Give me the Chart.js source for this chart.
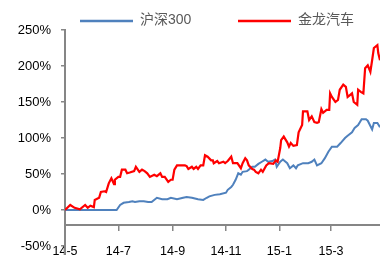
<!DOCTYPE html>
<html>
<head>
<meta charset="utf-8">
<script src="https://cdn.jsdelivr.net/npm/chart.js@4/dist/chart.umd.min.js"></script>
<style>
  body { margin: 0; background: #fff; }
</style>
</head>
<body>
<canvas id="grafico" width="380" height="255"></canvas>
<script>
// dias contados a partir de 2014-05-01
const diasHs300 = [0, 30, 59, 63, 67, 73, 77, 80, 85, 90, 95, 99, 105, 111, 117, 121, 128, 135, 139, 145, 152, 158, 162, 165, 171, 177, 184, 186, 190, 192, 195, 198, 201, 203, 208, 210, 214, 217, 221, 225, 229, 232, 237, 240, 242, 246, 249, 254, 257, 261, 264, 266, 272, 278, 282, 285, 288, 293, 297, 301, 305, 311, 315, 320, 323, 328, 331, 335, 339, 344, 346, 351, 353, 357, 360];
const hs300 = [0, 0, 0, 7, 10, 11, 12, 11, 12, 12, 11, 11, 17, 15, 15, 17, 15, 17, 18, 17, 15, 14, 17, 19, 21, 22, 24, 28, 32, 35, 42, 51, 49, 53, 54, 56, 60, 60, 64, 67, 70, 67, 68, 70, 60, 67, 70, 65, 58, 62, 58, 62, 65, 65, 67, 70, 62, 65, 72, 81, 88, 88, 93, 100, 103, 108, 114, 118, 126, 126, 124, 112, 121, 121, 115];

const diasJinlong = [0, 6, 11, 17, 23, 26, 29, 33, 34, 39, 41, 45, 47, 50, 53, 56, 57, 61, 63, 65, 69, 71, 74, 79, 81, 85, 88, 91, 94, 97, 102, 105, 109, 111, 114, 118, 121, 123, 125, 128, 137, 139, 141, 145, 147, 150, 152, 155, 158, 160, 163, 167, 169, 170, 174, 176, 181, 183, 186, 190, 192, 197, 201, 203, 206, 208, 210, 214, 216, 218, 221, 224, 226, 230, 233, 238, 241, 243, 246, 247, 250, 254, 256, 258, 261, 265, 267, 271, 272, 277, 279, 282, 285, 288, 290, 293, 295, 299, 302, 303, 305, 309, 312, 314, 318, 321, 323, 326, 328, 330, 334, 335, 338, 341, 343, 346, 349, 351, 353, 357, 358, 360];
const jinlong = [0, 7, 3, 1, 7, 3, 6, 4, 14, 17, 25, 26, 25, 37, 44, 36, 42, 46, 46, 56, 56, 51, 52, 54, 60, 53, 56, 54, 51, 46, 49, 47, 51, 46, 46, 39, 42, 42, 56, 62, 62, 61, 57, 60, 57, 60, 57, 62, 62, 76, 74, 69, 69, 65, 68, 65, 67, 65, 68, 74, 65, 65, 58, 65, 72, 69, 62, 57, 56, 53, 51, 56, 53, 62, 65, 64, 69, 67, 86, 97, 102, 94, 88, 93, 89, 90, 108, 118, 137, 137, 125, 130, 122, 121, 122, 140, 135, 139, 139, 162, 157, 150, 153, 167, 174, 171, 157, 160, 162, 150, 146, 167, 164, 162, 197, 201, 192, 208, 225, 229, 218, 208];

const diasTicks = [0, 61, 123, 184, 245, 304];
const rotulosTicks = ["14-5", "14-7", "14-9", "14-11", "15-1", "15-3"];
const ticksY = [-50, 0, 50, 100, 150, 200, 250];

const cinza = "#868686";
const fonte = "'Liberation Sans', 'Noto Sans CJK SC', sans-serif";

function pares(xs, ys) {
  return xs.map((x, i) => ({ x: x, y: ys[i] }));
}

// legenda desenhada à mão, no lugar da legenda padrão
const legendaManual = {
  id: "legendaManual",
  afterDraw(chart) {
    const ctx = chart.ctx;
    const posicoes = [80, 238];
    ctx.save();
    ctx.font = "14px " + fonte;
    ctx.textBaseline = "middle";
    chart.data.datasets.forEach((ds, i) => {
      const x = posicoes[i];
      ctx.strokeStyle = ds.borderColor;
      ctx.lineWidth = 2.5;
      ctx.beginPath();
      ctx.moveTo(x, 21);
      ctx.lineTo(x + 53, 21);
      ctx.stroke();
      ctx.fillStyle = "#595959";
      ctx.fillText(ds.label, x + 60, 20);
    });
    ctx.restore();
  }
};

const ctx = document.getElementById("grafico").getContext("2d");
const grafico = new Chart(ctx, {
  type: "line",
  data: {
    datasets: [{
      label: "沪深300",
      data: pares(diasHs300, hs300),
      borderColor: "#4f81bd",
      borderWidth: 2,
      pointRadius: 0,
      tension: 0,
      order: 1
    }, {
      label: "金龙汽车",
      data: pares(diasJinlong, jinlong),
      borderColor: "#ff0000",
      borderWidth: 2.2,
      pointRadius: 0,
      tension: 0,
      order: 0
    }]
  },
  options: {
    responsive: false,
    animation: false,
    devicePixelRatio: 1,
    layout: { padding: { top: 30, left: 0, right: 0, bottom: 0 } },
    plugins: {
      legend: { display: false },
      tooltip: { enabled: false }
    },
    scales: {
      x: {
        type: "linear",
        min: 0,
        max: 360,
        position: { y: -21 },
        afterBuildTicks: (scale) => {
          scale.ticks = diasTicks.map(v => ({ value: v }));
        },
        afterFit: (scale) => {
          scale.paddingLeft = 0;
          scale.paddingRight = 0;
        },
        ticks: {
          autoSkip: false,
          maxRotation: 0,
          padding: 14,
          color: "#000",
          font: { family: fonte, size: 12.5 },
          callback: (v) => rotulosTicks[diasTicks.indexOf(v)]
        },
        grid: { drawOnChartArea: false, tickLength: 5, color: cinza, lineWidth: 1.5 },
        border: { color: cinza, width: 2 }
      },
      y: {
        min: -62.5,
        max: 250,
        afterBuildTicks: (scale) => {
          scale.ticks = ticksY.map(v => ({ value: v }));
        },
        afterFit: (scale) => {
          scale.width = 65;
          scale.paddingTop = 0;
          scale.paddingBottom = 0;
        },
        ticks: {
          padding: 10,
          color: "#000",
          font: { family: fonte, size: 13 },
          callback: (v) => v + "%"
        },
        grid: { drawOnChartArea: false, tickLength: 4, color: cinza, lineWidth: 1.5 },
        border: { color: cinza, width: 2 }
      }
    }
  },
  plugins: [legendaManual]
});
</script>
</body>
</html>
